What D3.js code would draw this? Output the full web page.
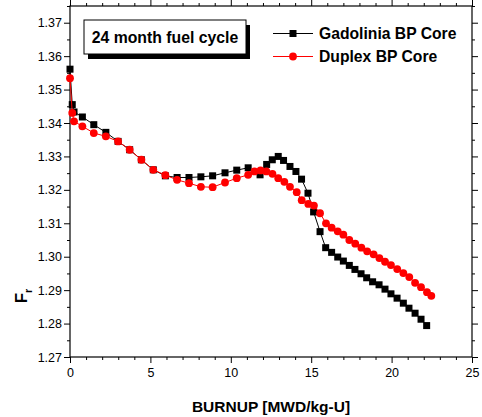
<!DOCTYPE html>
<html>
<head>
<meta charset="utf-8">
<script src="https://cdn.jsdelivr.net/npm/d3@7"></script>
<style>
  html, body { margin: 0; padding: 0; background: #fff; }
  svg { display: block; font-family: Arial, "Liberation Sans", sans-serif; }
</style>
</head>
<body>
<svg id="chart" width="482" height="417"></svg>
<script>
// Radial peaking factor versus burnup for the two burnable-poison cores
const gadoliniaBurnup = [0, 0.14, 0.25, 0.77, 1.48, 2.23, 2.99, 3.71, 4.44, 5.18,
  5.93, 6.66, 7.4, 8.14, 8.87, 9.64, 10.37, 11.08, 11.82, 12.23,
  12.58, 12.95, 13.28, 13.68, 14.05, 14.4, 14.8, 15.15, 15.55, 15.9,
  16.27, 16.65, 17.0, 17.37, 17.72, 18.1, 18.45, 18.82, 19.22, 19.59,
  19.96, 20.34, 20.73, 21.08, 21.46, 21.83, 22.18];
const gadoliniaFr = [1.3561, 1.3455, 1.3433, 1.3418, 1.3395, 1.3372, 1.3345, 1.3320, 1.3290, 1.3260,
  1.3242, 1.3237, 1.3237, 1.3239, 1.3242, 1.3251, 1.3259, 1.3266, 1.3245, 1.3276,
  1.3290, 1.3300, 1.3288, 1.3270, 1.3255, 1.3232, 1.3190, 1.3134, 1.3075, 1.3027,
  1.3013, 1.2999, 1.2987, 1.2974, 1.2962, 1.2949, 1.2937, 1.2925, 1.2916, 1.2903,
  1.2889, 1.2876, 1.2861, 1.2846, 1.2831, 1.2813, 1.2794];

const duplexBurnup = [0, 0.14, 0.25, 0.77, 1.48, 2.23, 2.99, 3.71, 4.44, 5.18,
  5.93, 6.66, 7.4, 8.14, 8.87, 9.64, 10.37, 11.08, 11.47, 11.85,
  12.21, 12.59, 12.95, 13.33, 13.68, 14.1, 14.41, 14.82, 15.17, 15.55,
  15.92, 16.27, 16.65, 17.0, 17.37, 17.74, 18.12, 18.48, 18.88, 19.24,
  19.59, 19.96, 20.35, 20.73, 21.1, 21.46, 21.83, 22.2, 22.47];
const duplexFr = [1.3534, 1.3430, 1.3405, 1.3390, 1.3370, 1.3360, 1.3345, 1.3320, 1.3290, 1.3260,
  1.3244, 1.3230, 1.3220, 1.3209, 1.3208, 1.3222, 1.3235, 1.3245, 1.3255, 1.3258,
  1.3255, 1.3248, 1.3235, 1.3224, 1.3209, 1.3193, 1.3169, 1.3158, 1.3153, 1.3130,
  1.3100, 1.3087, 1.3076, 1.3066, 1.3050, 1.3039, 1.3027, 1.3016, 1.3007, 1.2996,
  1.2985, 1.2975, 1.2963, 1.2951, 1.2939, 1.2922, 1.2909, 1.2894, 1.2883];

const seriesNames = ["Gadolinia BP Core", "Duplex BP Core"];
const xTicks = [0, 5, 10, 15, 20, 25];
const yTicks = [1.27, 1.28, 1.29, 1.30, 1.31, 1.32, 1.33, 1.34, 1.35, 1.36, 1.37];
const boxLabel = "24 month fuel cycle";
const xTitle = "BURNUP [MWD/kg-U]";

const svg = d3.select("#chart");
const m = { left: 70, right: 10, top: 6, bottom: 60 };
const W = 482, H = 417;
const pw = W - m.left - m.right, ph = H - m.top - m.bottom;

const x = d3.scaleLinear().domain([0, 25]).range([m.left, m.left + pw]);
const y = d3.scaleLinear().domain([1.27, 1.375]).range([m.top + ph, m.top]);

const xMinor = d3.range(0, 25.001, 1).filter(v => v % 5 !== 0);
const yMinor = d3.range(1.265, 1.376, 0.005).map(v => +v.toFixed(3))
  .filter(v => v >= 1.27 && v <= 1.375 && Math.round(v * 1000) % 10 !== 0);

const tickFont = "12.5px";

function styleAxis(g) {
  g.select(".domain").remove();
  g.selectAll("line").attr("stroke", "#000").attr("stroke-width", 1);
  g.selectAll("text").attr("fill", "#000").style("font-size", tickFont);
}

// bottom axis
svg.append("g").attr("transform", `translate(0,${m.top + ph})`)
  .call(d3.axisBottom(x).tickValues(xTicks).tickSize(6).tickPadding(5).tickFormat(d3.format("d")))
  .call(styleAxis);
svg.append("g").attr("transform", `translate(0,${m.top + ph})`)
  .call(d3.axisBottom(x).tickValues(xMinor).tickSize(3).tickFormat(""))
  .call(styleAxis);
// top axis (mirror)
svg.append("g").attr("transform", `translate(0,${m.top})`)
  .call(d3.axisTop(x).tickValues(xTicks).tickSize(6).tickFormat(""))
  .call(styleAxis);
svg.append("g").attr("transform", `translate(0,${m.top})`)
  .call(d3.axisTop(x).tickValues(xMinor).tickSize(3).tickFormat(""))
  .call(styleAxis);
// left axis
svg.append("g").attr("transform", `translate(${m.left},0)`)
  .call(d3.axisLeft(y).tickValues(yTicks).tickSize(6).tickPadding(2).tickFormat(d3.format(".2f")))
  .call(styleAxis);
svg.append("g").attr("transform", `translate(${m.left},0)`)
  .call(d3.axisLeft(y).tickValues(yMinor).tickSize(3).tickFormat(""))
  .call(styleAxis);
// right axis (mirror)
svg.append("g").attr("transform", `translate(${m.left + pw},0)`)
  .call(d3.axisRight(y).tickValues(yTicks).tickSize(6).tickFormat(""))
  .call(styleAxis);
svg.append("g").attr("transform", `translate(${m.left + pw},0)`)
  .call(d3.axisRight(y).tickValues(yMinor).tickSize(3).tickFormat(""))
  .call(styleAxis);

// frame
svg.append("rect")
  .attr("x", m.left).attr("y", m.top).attr("width", pw).attr("height", ph)
  .attr("fill", "none").attr("stroke", "#000").attr("stroke-width", 1.2);

// series
const gadData = gadoliniaBurnup.map((b, i) => [b, gadoliniaFr[i]]);
const dupData = duplexBurnup.map((b, i) => [b, duplexFr[i]]);
const line = d3.line().x(d => x(d[0])).y(d => y(d[1]));

svg.append("path").datum(gadData).attr("d", line)
  .attr("fill", "none").attr("stroke", "#000").attr("stroke-width", 1);
const sq = 7;
svg.append("g").selectAll("rect").data(gadData).join("rect")
  .attr("x", d => x(d[0]) - sq / 2).attr("y", d => y(d[1]) - sq / 2)
  .attr("width", sq).attr("height", sq).attr("fill", "#000");

svg.append("path").datum(dupData).attr("d", line)
  .attr("fill", "none").attr("stroke", "#ff0000").attr("stroke-width", 1);
svg.append("g").selectAll("circle").data(dupData).join("circle")
  .attr("cx", d => x(d[0])).attr("cy", d => y(d[1])).attr("r", 3.9)
  .attr("fill", "#ff0000");

// annotation box with drop shadow
const bx = 84, by = 20, bw = 162, bh = 34;
svg.append("rect").attr("x", bx + 4).attr("y", by + 5).attr("width", bw).attr("height", bh).attr("fill", "#000");
svg.append("rect").attr("x", bx).attr("y", by).attr("width", bw).attr("height", bh)
  .attr("fill", "#fff").attr("stroke", "#000").attr("stroke-width", 1);
svg.append("text").attr("x", bx + bw / 2).attr("y", by + 23).attr("text-anchor", "middle")
  .style("font-size", "15.8px").style("font-weight", "bold")
  .text(boxLabel);

// legend
const legend = svg.append("g");
const legY = [33.5, 56.5];
legend.append("line").attr("x1", 273).attr("x2", 313).attr("y1", legY[0]).attr("y2", legY[0]).attr("stroke", "#000");
legend.append("rect").attr("x", 293 - sq / 2).attr("y", legY[0] - sq / 2).attr("width", sq).attr("height", sq).attr("fill", "#000");
legend.append("line").attr("x1", 273).attr("x2", 313).attr("y1", legY[1]).attr("y2", legY[1]).attr("stroke", "#ff0000");
legend.append("circle").attr("cx", 293).attr("cy", legY[1]).attr("r", 3.9).attr("fill", "#ff0000");
seriesNames.forEach((name, i) => {
  legend.append("text").attr("x", 319).attr("y", legY[i] + 5.8)
    .style("font-size", "15.7px").style("font-weight", "bold")
    .text(name);
});

// axis titles
svg.append("text").attr("x", 271).attr("y", 412).attr("text-anchor", "middle")
  .style("font-size", "15.5px").style("font-weight", "bold")
  .text(xTitle);

const yt = svg.append("text").attr("transform", "translate(27,296) rotate(-90)")
  .attr("text-anchor", "middle").style("font-size", "17px").style("font-weight", "bold");
yt.append("tspan").text("F");
yt.append("tspan").attr("dy", 5).style("font-size", "11px").text("r");
</script>
</body>
</html>
